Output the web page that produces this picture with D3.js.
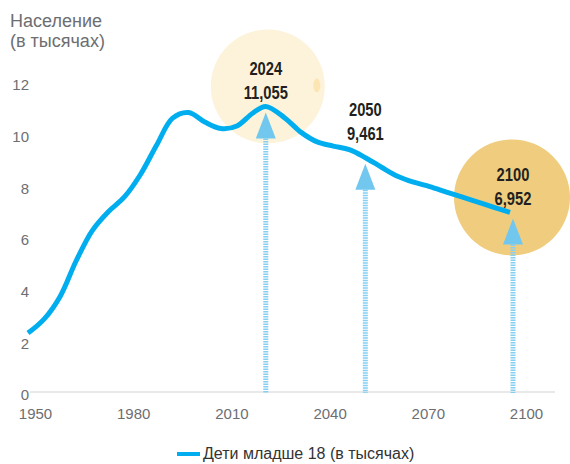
<!DOCTYPE html>
<html>
<head>
<meta charset="utf-8">
<script src="https://cdn.jsdelivr.net/npm/d3@7"></script>
<style>
  body { margin: 0; background: #fff; }
  svg { display: block; font-family: "Liberation Sans", Arial, sans-serif; }
</style>
</head>
<body>
<div id="chart"></div>
<script>
// data
const years = [1950, 1955, 1960, 1965, 1970, 1975, 1980, 1985, 1990, 1995, 2000,
  2005, 2010, 2015, 2020, 2024, 2030, 2035, 2040, 2045, 2050, 2055, 2060, 2065,
  2070, 2075, 2080, 2085, 2090, 2095, 2100];
const children = [2.28, 2.82, 3.7, 5.08, 6.25, 6.98, 7.55, 8.42, 9.55, 10.6, 10.82,
  10.45, 10.2, 10.3, 10.8, 11.055, 10.6, 10.05, 9.68, 9.52, 9.38, 9.07, 8.7, 8.35,
  8.12, 7.95, 7.75, 7.55, 7.35, 7.15, 6.952];
const xTicks = [1950, 1980, 2010, 2040, 2070, 2100];
const yTicks = [0, 2, 4, 6, 8, 10, 12];
const annoYears = [2024, 2050, 2100];
const annoValues = [11.055, 9.461, 6.952];
const annoLabels = ["11,055", "9,461", "6,952"];
const seriesName = "Дети младше 18 (в тысячах)";

const width = 570;
const height = 464;

const x = d3.scaleLinear().domain([1950, 2100]).range([28, 510]);
const xLabels = d3.scaleLinear().domain([1950, 2100]).range([35, 526]);
const y = d3.scaleLinear().domain([0, 12]).range([392, 82]);

const svg = d3
  .select("#chart")
  .append("svg")
  .attr("width", width)
  .attr("height", height);

// title
svg
  .append("text")
  .attr("x", 10)
  .attr("y", 27)
  .attr("font-size", "18px")
  .attr("fill", "#6d6e71")
  .text("Население");
svg
  .append("text")
  .attr("x", 10)
  .attr("y", 47)
  .attr("font-size", "18px")
  .attr("fill", "#6d6e71")
  .text("(в тысячах)");

// zero line
svg
  .append("line")
  .attr("x1", 30)
  .attr("x2", 555)
  .attr("y1", y(0))
  .attr("y2", y(0))
  .attr("stroke", "#e2e2e2")
  .attr("stroke-width", 1.5);

// y axis labels
const yAxis = svg
  .append("g")
  .attr("transform", "translate(29,3)")
  .call(d3.axisLeft(y).tickValues(yTicks).tickSize(0).tickPadding(0));
yAxis.select(".domain").remove();
yAxis
  .selectAll("text")
  .attr("font-size", "15px")
  .attr("font-family", "Liberation Sans, Arial, sans-serif")
  .attr("fill", "#6d6e71");

// x axis labels
const xAxis = svg
  .append("g")
  .attr("transform", "translate(0,405)")
  .call(
    d3.axisBottom(xLabels).tickValues(xTicks).tickFormat(d3.format("d")).tickSize(0)
  );
xAxis.select(".domain").remove();
xAxis
  .selectAll("text")
  .attr("font-size", "15px")
  .attr("font-family", "Liberation Sans, Arial, sans-serif")
  .attr("fill", "#6d6e71");

// circles behind annotations
const bigCircles = [
  { i: 0, dy: -20, r: 57, fill: "#fdf3da" },
  { i: 2, dy: -15, r: 58, fill: "#f0cd7e" },
];
svg
  .selectAll("circle.bubble")
  .data(bigCircles)
  .enter()
  .append("circle")
  .attr("class", "bubble")
  .attr("cx", (d) => x(annoYears[d.i]) + 2)
  .attr("cy", (d) => y(annoValues[d.i]) + d.dy)
  .attr("r", (d) => d.r)
  .attr("fill", (d) => d.fill);

// small smudge on the first bubble
svg
  .append("ellipse")
  .attr("cx", x(annoYears[0]) + 51)
  .attr("cy", y(annoValues[0]) - 21)
  .attr("rx", 3.5)
  .attr("ry", 7)
  .attr("fill", "#fbe6b3");

// line value at any year, from the data
function valueAt(year) {
  const yr = Math.min(Math.max(year, years[0]), years[years.length - 1]);
  const i = Math.min(years.length - 1, Math.max(1, d3.bisectLeft(years, yr)));
  const t = (yr - years[i - 1]) / (years[i] - years[i - 1]);
  return children[i - 1] + t * (children[i] - children[i - 1]);
}

// arrows
const shifts = [0, 16, 3];
annoYears.forEach((yr, i) => {
  const ax = x(yr) + shifts[i];
  const tip = y(valueAt(x.invert(ax))) + 6;
  const base = tip + 26;
  svg
    .append("line")
    .attr("x1", ax)
    .attr("x2", ax)
    .attr("y1", base)
    .attr("y2", y(0) + 1)
    .attr("stroke", "#84cff3")
    .attr("stroke-width", 5)
    .attr("stroke-dasharray", "1.5,1");
  svg
    .append("path")
    .attr("d", `M${ax},${tip} L${ax + 10},${base} L${ax - 10},${base} Z`)
    .attr("fill", "#72c7ef");
});

// main line
const line = d3
  .line()
  .x((d, i) => x(years[i]))
  .y((d) => y(d))
  .curve(d3.curveCatmullRom.alpha(0.5));

svg
  .append("path")
  .datum(children)
  .attr("fill", "none")
  .attr("stroke", "#00aeef")
  .attr("stroke-width", 5)
  .attr("stroke-linecap", "butt")
  .attr("stroke-linejoin", "round")
  .attr("d", line);

// annotation labels (narrow bold look)
annoYears.forEach((yr, i) => {
  const lx = x(yr) + shifts[i];
  const py = y(annoValues[i]);
  [String(yr), annoLabels[i]].forEach((t, k) => {
    svg
      .append("text")
      .attr("transform", `translate(${lx},${py + (k === 0 ? -38 : -14)}) scale(0.82,1)`)
      .attr("dy", "0.35em")
      .attr("text-anchor", "middle")
      .attr("font-size", "18px")
      .attr("font-weight", "bold")
      .attr("font-family", "'Liberation Sans', Arial, sans-serif")
      .attr("fill", "#231f20")
      .text(t);
  });
});

// legend
svg
  .append("line")
  .attr("x1", 177)
  .attr("x2", 200)
  .attr("y1", 454)
  .attr("y2", 454)
  .attr("stroke", "#00aeef")
  .attr("stroke-width", 4);
svg
  .append("text")
  .attr("x", 203)
  .attr("y", 459)
  .attr("font-size", "16px")
  .attr("fill", "#333")
  .text(seriesName);
</script>
</body>
</html>
